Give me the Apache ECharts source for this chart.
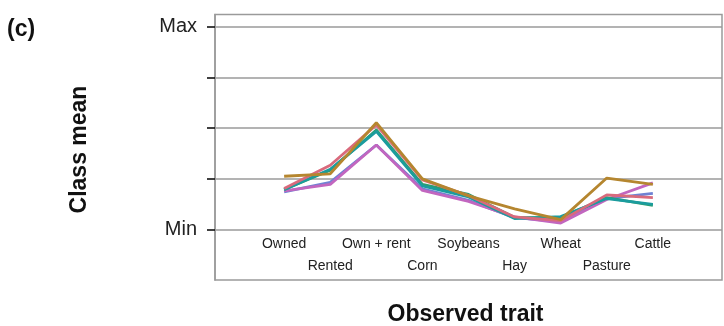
<!DOCTYPE html>
<html>
<head>
<meta charset="utf-8">
<script src="https://cdn.jsdelivr.net/npm/echarts@6/dist/echarts.min.js"></script>
<style>
  html, body { margin: 0; padding: 0; background: #fff; }
  #chart { width: 724px; height: 326px; }
</style>
</head>
<body>
<div id="chart"></div>
<script>
// Observed traits along the x axis; the outer blanks leave room inside the frame.
const categories = ['Owned', 'Rented', 'Own + rent', 'Corn', 'Soybeans', 'Hay', 'Wheat', 'Pasture', 'Cattle'];

// Y axis: class mean scaled from Min (0) to Max (100)
const yTicks = [0, 25, 50, 75, 100];
const yTickNames = { 0: 'Min', 100: 'Max' };

// Class means per trait
const class1 = [18.5, 23.2, 41.6, 20.0, 14.3, 5.8, 3.8, 15.2, 17.7];
const class2 = [19.0, 22.2, 41.6, 19.2, 13.8, 6.1, 3.1, 14.7, 22.9];
const class3 = [19.7, 29.2, 49.0, 22.2, 17.2, 5.8, 5.8, 15.7, 11.8];
const class4 = [19.5, 29.6, 48.3, 21.4, 16.0, 5.3, 6.3, 15.2, 12.3];
const class5 = [20.2, 31.6, 51.5, 24.4, 16.7, 6.1, 4.3, 17.0, 15.6];
const class6 = [26.2, 27.4, 52.6, 24.9, 16.5, 10.1, 4.8, 25.3, 22.2];

const classes = [class1, class2, class3, class4, class5, class6];
const classNames = ['Class 1', 'Class 2', 'Class 3', 'Class 4', 'Class 5', 'Class 6'];
const palette = ['#6f82d3', '#c266bf', '#2f9e6c', '#1b9c9e', '#d96a7c', '#b5862f'];

const xCats = [''].concat(categories, ['']);
const pad = (arr) => [null].concat(arr, [null]);

const chart = echarts.init(document.getElementById('chart'), null, { renderer: 'canvas' });
const FONT = '"Liberation Sans", Arial, sans-serif';

const GRID_TOP = 14.5, GRID_BOTTOM = 46, Y_MIN = -25, Y_MAX = 106;
// distance from the frame bottom up to the Min line
const plotH = 326 - GRID_TOP - GRID_BOTTOM;
const zeroOffset = plotH * (0 - Y_MIN) / (Y_MAX - Y_MIN);

chart.setOption({
  animation: false,
  backgroundColor: '#fff',
  grid: {
    left: 215, right: 2, top: GRID_TOP, bottom: GRID_BOTTOM,
    containLabel: false,
    outerBoundsMode: 'none',
    show: true, borderColor: '#9a9a9a', borderWidth: 1.5
  },
  xAxis: {
    type: 'category',
    data: xCats,
    boundaryGap: true,
    position: 'bottom',
    offset: -zeroOffset,
    axisLine: { show: false },
    axisTick: { show: false },
    splitLine: { show: false },
    axisLabel: {
      interval: 0,
      margin: 4,
      color: '#222',
      fontFamily: FONT,
      fontSize: 14,
      lineHeight: 22,
      formatter: (v, i) => (i % 2 === 1 ? v : '\n' + v)
    }
  },
  yAxis: {
    type: 'value',
    min: Y_MIN,
    max: Y_MAX,
    interval: 25,
    axisLine: { show: true, lineStyle: { color: '#9a9a9a', width: 1.5 } },
    axisTick: {
      show: true, inside: false, length: 8,
      customValues: yTicks,
      lineStyle: { color: '#111', width: 1.6 }
    },
    splitLine: { show: true, lineStyle: { color: '#9a9a9a', width: 1.5 } },
    axisLabel: {
      customValues: [0, 100],
      margin: 18,
      color: '#222',
      fontFamily: FONT,
      fontSize: 20,
      formatter: (v) => yTickNames[v] || ''
    }
  },
  series: classes.map((vals, k) => ({
    name: classNames[k],
    type: 'line',
    data: pad(vals),
    symbol: 'none',
    connectNulls: false,
    z: 2 + k,
    lineStyle: { color: palette[k], width: 2.8 },
    itemStyle: { color: palette[k] }
  })),
  graphic: [
    {
      type: 'text', left: 7, top: 18,
      style: { text: '(c)', font: 'bold 23px ' + FONT, fill: '#111' }
    },
    {
      type: 'text', x: 80, y: 149.5, rotation: Math.PI / 2,
      style: {
        text: 'Class mean', font: 'bold 23px ' + FONT, fill: '#111',
        align: 'center', verticalAlign: 'middle'
      }
    },
    {
      type: 'text', x: 465.5, y: 315,
      style: {
        text: 'Observed trait', font: 'bold 23px ' + FONT, fill: '#111',
        align: 'center', verticalAlign: 'middle'
      }
    }
  ]
});
</script>
</body>
</html>
